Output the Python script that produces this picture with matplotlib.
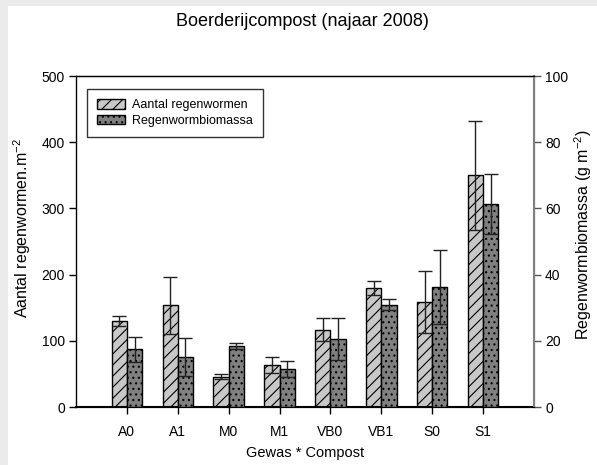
import matplotlib
matplotlib.use("Agg")
import matplotlib.pyplot as plt
import numpy as np
from matplotlib.patches import Rectangle

plt.rcParams['font.family'] = ['Liberation Sans', 'DejaVu Sans']
plt.rcParams['mathtext.fontset'] = 'custom'
plt.rcParams['mathtext.rm'] = 'Liberation Sans'
plt.rcParams['mathtext.it'] = 'Liberation Sans'
plt.rcParams['mathtext.default'] = 'regular'
plt.rcParams['hatch.linewidth'] = 0.8

categories = ["A0", "A1", "M0", "M1", "VB0", "VB1", "S0", "S1"]
aantal = [130, 154, 46, 63, 117, 180, 159, 350]
aantal_err = [8, 43, 4, 12, 18, 11, 47, 82]
biomassa = [17.4, 15.1, 18.4, 11.6, 20.6, 30.9, 36.3, 61.4]
biomassa_err = [3.7, 5.6, 1.0, 2.4, 6.3, 1.6, 11.1, 9.1]

W, H = 597, 465
fig = plt.figure(figsize=(W/100, H/100), dpi=100)
fig.patch.set_facecolor('#ebebeb')
fig.patches.append(Rectangle((8/W, 0), (597-8)/W, (465-6)/H, transform=fig.transFigure,
                             facecolor='white', edgecolor='none', zorder=-10))

ax = fig.add_axes([76/W, 1-407/H, (534-76)/W, (407-76)/H])
ax2 = ax.twinx()

x = np.arange(len(categories))
bw = 0.3

b1 = ax.bar(x - bw/2, aantal, bw, color='#c8c8c8', edgecolor='black', hatch='///', linewidth=1.0, zorder=2)
ax.errorbar(x - bw/2, aantal, yerr=aantal_err, fmt='none', ecolor='#222222', elinewidth=1.0, capsize=5, capthick=1.0, zorder=3)

b2 = ax2.bar(x + bw/2, biomassa, bw, color='#808080', edgecolor='black', hatch='...', linewidth=1.0, zorder=2)
ax2.errorbar(x + bw/2, biomassa, yerr=biomassa_err, fmt='none', ecolor='#222222', elinewidth=1.0, capsize=5, capthick=1.0, zorder=3)

ax.set_xlim(-1, 8)
ax.set_ylim(0, 500)
ax2.set_ylim(0, 100)
ax.set_yticks([0, 100, 200, 300, 400, 500])
ax2.set_yticks([0, 20, 40, 60, 80, 100])
ax.set_xticks(x)
ax.set_xticklabels(categories)

for a in (ax, ax2):
    a.tick_params(labelsize=10, direction='out', length=5, width=1, pad=3)
ax.tick_params(axis='x', pad=8)
ax2.tick_params(axis='y', colors='#555555', labelcolor='black')

for s in ['left', 'top', 'bottom']:
    ax.spines[s].set_color('black')
    ax.spines[s].set_linewidth(1.0)
ax2.spines['right'].set_color('#808080')
ax2.spines['right'].set_linewidth(1.5)
ax2.spines['left'].set_visible(False)
ax.spines['bottom'].set_linewidth(1.5)

fig.text(302/W, 1-22/H, "Boerderijcompost (najaar 2008)", ha='center', va='center', fontsize=13)
fig.text(305/W, 1-453/H, "Gewas * Compost", ha='center', va='center', fontsize=10.5)
fig.text(22/W, 1-228/H, "Aantal regenwormen.m$^{-2}$", ha='center', va='center', rotation=90, fontsize=11.5)
fig.text(583/W, 1-235/H, "Regenwormbiomassa (g m$^{-2}$)", ha='center', va='center', rotation=90, fontsize=11.5)

leg = ax2.legend([b1, b2], ["Aantal regenwormen", "Regenwormbiomassa"],
                 loc='upper left', bbox_to_anchor=(87/W, 1-89/H), bbox_transform=fig.transFigure,
                 fontsize=9, frameon=True, fancybox=False, borderaxespad=0,
                 handlelength=2.2, handleheight=0.8, borderpad=0.8, labelspacing=0.3,
                 handletextpad=0.6)
leg.get_frame().set_edgecolor('black')
leg.get_frame().set_linewidth(1.0)

fig.savefig("out.png", dpi=100, facecolor=fig.get_facecolor())
